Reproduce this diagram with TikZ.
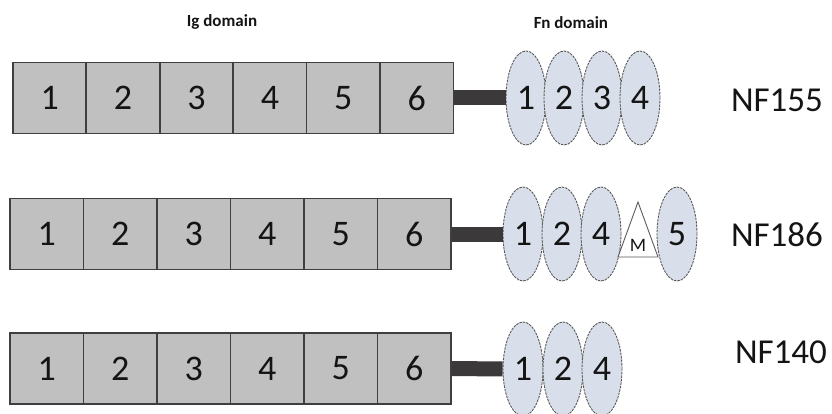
\documentclass[tikz,border=0pt]{standalone}
\usepackage{fontspec}
\setmainfont{Carlito}
\usetikzlibrary{shapes.geometric}
\definecolor{boxfill}{HTML}{C0C0C0}
\definecolor{boxline}{HTML}{3F3F3F}
\definecolor{fnfill}{HTML}{D9DFEA}
\definecolor{fnline}{HTML}{5A5A5A}
\definecolor{linkcol}{HTML}{3B3939}
\definecolor{txt}{HTML}{141414}
\tikzset{
  igbox/.style={draw=boxline, fill=boxfill, line width=1.8pt, minimum width=73.5pt, minimum height=71pt, inner sep=0pt, text=txt, font=\fontsize{36}{42}\selectfont},
  fnell/.style={ellipse, draw=fnline, fill=fnfill, line width=0.9pt, dash pattern=on 2.5pt off 1pt, minimum width=40pt, minimum height=94pt, inner sep=0pt, text=txt, font=\fontsize{36}{42}\selectfont},
  link/.style={draw=linkcol, line width=15pt},
  iso/.style={text=txt, font=\fontsize{35}{42}\selectfont},
  title/.style={text=txt, font=\bfseries\fontsize{17}{20}\selectfont},
  tri/.style={draw=fnline, fill=white, line width=0.9pt},
}
\begin{document}
\begin{tikzpicture}[x=1pt,y=-1pt]
\useasboundingbox (0,0) rectangle (832,414);
% titles
\node[title] (tig) at (222,22) {Ig domain};
\node[title] (tfn) at (571,23) {Fn domain};
% row 1
\foreach \i in {1,...,6} {
  \node[igbox] (a\i) at ({13+73.4*(\i-0.5)},98) {\i};
}
\node[fnell] (fa1) at (526,98) {1};
\node[fnell] (fa2) at (564,98) {2};
\node[fnell] (fa3) at (602,98) {3};
\node[fnell] (fa4) at (640,98) {4};
\draw[link] (a6.east) -- (fa1.west);
\node[iso] (n155) at (777,100) {NF155};
% row 2
\foreach \i in {1,...,6} {
  \node[igbox] (b\i) at ({10+73.5*(\i-0.5)},234) {\i};
}
\node[fnell] (fb1) at (523,234) {1};
\node[fnell] (fb2) at (562,234) {2};
\node[fnell] (fb4) at (601,234) {4};
\coordinate (tl) at (618,257);
\coordinate (tt) at (638,202);
\coordinate (tr) at (658,257);
\draw[tri] (tl) -- (tt) -- (tr) -- cycle;
\node[text=txt, font=\fontsize{19}{22}\selectfont] (mm) at (638,245) {M};
\node[fnell] (fb5) at (677,234) {5};
\draw[link] (b6.east) -- (fb1.west);
\node[iso] (n186) at (777,235) {NF186};
% row 3
\foreach \i in {1,...,6} {
  \node[igbox] (c\i) at ({10+73.5*(\i-0.5)},368.5) {\i};
}
\node[fnell] (fc1) at (523,369) {1};
\node[fnell] (fc2) at (563,369) {2};
\node[fnell] (fc4) at (602,369) {4};
\draw[link] (c6.east) -- (fc1.west);
\node[iso] (n140) at (781,352) {NF140};
\end{tikzpicture}
\end{document}
